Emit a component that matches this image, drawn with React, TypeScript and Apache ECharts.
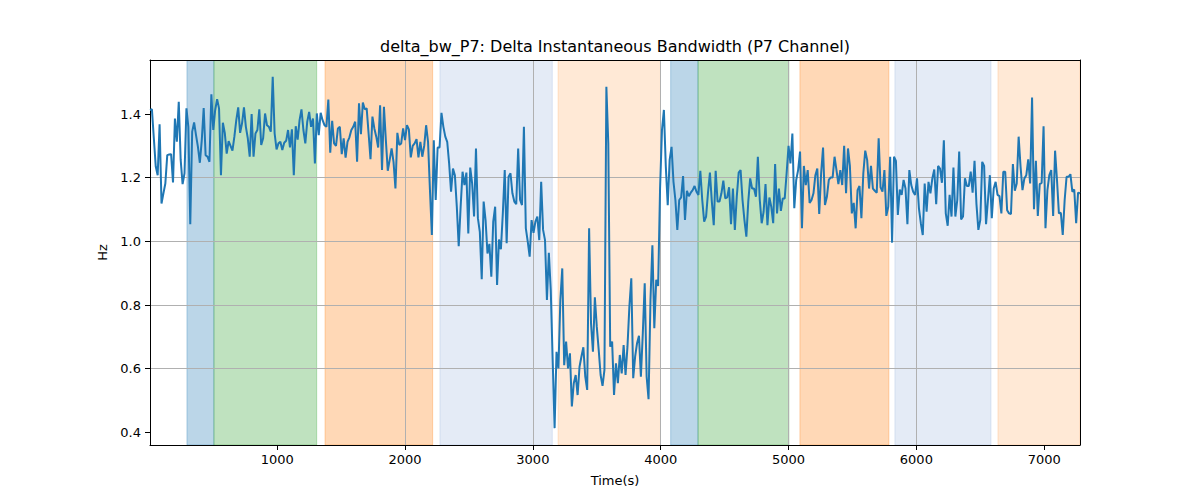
import React, { useEffect, useRef } from "react";
import * as echarts from "echarts";

const TITLE = "delta_bw_P7: Delta Instantaneous Bandwidth (P7 Channel)";

// samples every 15 s
const TIME_START = 5;
const TIME_STEP = 15;

const BW_DELTA = [
  1.413, 1.415, 1.324, 1.235, 1.208, 1.368, 1.119, 1.151, 1.182, 1.271,
  1.273, 1.274, 1.185, 1.386, 1.313, 1.439, 1.256, 1.18, 1.214, 1.418,
  1.36, 1.054, 1.345, 1.374, 1.334, 1.297, 1.247, 1.318, 1.419, 1.271,
  1.266, 1.25, 1.462, 1.35, 1.413, 1.447, 1.418, 1.208, 1.373, 1.341,
  1.276, 1.315, 1.3, 1.285, 1.329, 1.381, 1.421, 1.341, 1.371, 1.421,
  1.36, 1.324, 1.266, 1.4, 1.266, 1.339, 1.35, 1.415, 1.303, 1.324,
  1.402, 1.365, 1.36, 1.345, 1.517, 1.339, 1.289, 1.308, 1.313, 1.287,
  1.31, 1.316, 1.35, 1.295, 1.352, 1.208, 1.362, 1.32,
  1.381, 1.415, 1.35, 1.308, 1.376, 1.407, 1.36, 1.386, 1.245, 1.402,
  1.334, 1.404, 1.381, 1.365, 1.36, 1.446, 1.279, 1.379, 1.308, 1.3,
  1.355, 1.36, 1.274, 1.324, 1.263, 1.313, 1.327, 1.35, 1.36, 1.376,
  1.25, 1.434, 1.337, 1.436, 1.415, 1.418, 1.339, 1.258, 1.392, 1.355,
  1.329, 1.295, 1.428, 1.224, 1.423, 1.318, 1.222, 1.256, 1.292, 1.25,
  1.166, 1.341, 1.303, 1.308, 1.355, 1.318, 1.365, 1.352, 1.264, 1.3,
  1.308, 1.321, 1.264, 1.313, 1.266, 1.3, 1.365, 1.313, 1.161, 1.02,
  1.318, 1.13, 1.295, 1.295, 1.404, 1.36, 1.329, 1.313, 1.245,
  1.156, 1.229, 1.208, 1.109, 0.985, 1.109, 1.219, 1.177, 1.216, 1.025,
  1.232, 1.182, 1.078, 1.292, 1.073, 1.03, 0.881, 1.125, 1.067, 0.962,
  0.992, 0.889, 1.062, 1.109, 0.863, 1.006, 0.975, 1.088, 1.224, 0.994,
  1.203, 1.214, 1.151, 1.125, 1.117, 1.292, 1.13, 1.114, 1.36, 1.041,
  0.999, 0.952, 1.067, 1.027, 1.062, 1.078, 1.004, 1.187, 1.036, 1.004,
  0.816, 0.964, 0.847, 0.627, 0.413, 0.653, 0.601, 0.816, 0.915, 0.611,
  0.685, 0.601,
  0.648, 0.481, 0.554, 0.58, 0.517, 0.606, 0.638, 0.667, 0.575, 0.533,
  1.041, 0.742, 0.653, 0.824, 0.732, 0.659, 0.58, 0.546, 0.596, 1.486,
  1.308, 0.669, 0.685, 0.517, 0.617, 0.554, 0.643, 0.585, 0.674, 0.58,
  0.669, 0.795, 0.884, 0.57, 0.638, 0.68, 0.703, 0.575, 0.711, 0.868,
  0.575, 0.504, 0.816, 0.988, 0.727, 0.879, 0.86, 1.166, 1.35, 1.413,
  1.235, 1.114, 1.256, 1.297, 1.187, 1.13, 1.036, 1.13,
  1.138, 1.205, 1.067, 1.159, 1.142, 1.153, 1.161, 1.174, 1.156, 1.146,
  1.222, 1.13, 1.062, 1.078, 1.153, 1.216, 1.125, 1.051, 1.222, 1.125,
  1.125, 1.151, 1.191, 1.135, 1.138, 1.17, 1.054, 1.166, 1.036, 1.14,
  1.216, 1.224, 1.13, 1.067, 1.015, 1.125, 1.198, 1.166, 1.166, 1.14,
  1.266, 1.13, 1.057, 1.093, 1.18, 1.051, 1.138, 1.109, 1.057, 1.243,
  1.088, 1.166, 1.096, 1.135, 1.135, 1.214, 1.3, 1.245, 1.339, 1.104,
  1.193, 1.224, 1.282, 1.041, 1.237, 1.177, 1.224,
  1.121, 1.13, 1.151, 1.208, 1.229, 1.086, 1.214, 1.295, 1.114, 1.14,
  1.193, 1.201, 1.201, 1.266, 1.224, 1.18, 1.224, 1.177, 1.3, 1.151,
  1.292, 1.237, 1.088, 1.121, 1.041, 1.161, 1.174, 1.073, 1.214, 1.285,
  1.256, 1.166, 1.237, 1.166, 1.159, 1.153, 1.324, 1.17, 1.156, 1.224,
  1.08, 1.109, 1.266, 0.996, 1.266, 1.253, 1.083, 1.163, 1.146, 1.193,
  1.166, 1.054, 1.224, 1.177, 1.156, 1.146, 1.198, 1.104, 1.057, 1.02,
  1.182, 1.093, 1.187, 1.151, 1.198, 1.226, 1.117, 1.237, 1.229, 1.184,
  1.318, 1.088, 1.049, 1.146,
  1.078, 1.232, 1.078, 1.13, 1.282, 1.069, 1.078, 1.198, 1.174, 1.174,
  1.219, 1.153, 1.253, 1.117, 1.036, 1.067, 1.25, 1.237, 1.054, 1.13,
  1.208, 1.073, 1.166, 1.187, 1.146, 1.142, 1.088, 1.219, 1.219, 1.098,
  1.088, 1.086, 1.243, 1.159, 1.182, 1.329, 1.235, 1.161, 1.198, 1.208,
  1.258, 1.182, 1.452, 1.101, 1.253, 1.08, 1.18, 1.184, 1.362, 1.041,
  1.161, 1.208, 1.224, 1.08, 1.285, 1.193, 1.088, 1.09, 1.02, 1.13,
  1.203, 1.203, 1.211, 1.156, 1.163, 1.057, 1.153, 1.151,
];

// shaded phases (axvspan)
const BAND_START = [294, 505, 1374, 2273, 3197, 4078, 4292, 5089, 5832, 6638];
const BAND_END = [505, 1309, 2216, 3152, 3998, 4292, 5003, 5785, 6584, 7280];
const BAND_KIND = [0, 1, 2, 3, 4, 0, 1, 2, 3, 4];
const BAND_COLORS = [
  "rgba(31,119,180,0.3)",
  "rgba(44,160,44,0.3)",
  "rgba(255,127,14,0.3)",
  "rgba(50,100,185,0.13)",
  "rgba(255,127,14,0.17)",
];

const Y_MIN = 0.36;
const Y_MAX = 1.57;
const Y_TICKS = [0.4, 0.6, 0.8, 1.0, 1.2, 1.4];
const X_TICKS = [1000, 2000, 3000, 4000, 5000, 6000, 7000];

const FONT = "DejaVu Sans";

const App: React.FC = () => {
  const chartRef = useRef<HTMLDivElement>(null);

  useEffect(() => {
    const chart = echarts.init(chartRef.current!, null, { renderer: "svg" });
    const times = BW_DELTA.map((_, i) => TIME_START + i * TIME_STEP);
    const lineData = BW_DELTA.map((v, i) => [times[i], v]);
    const xMin = times[0];
    const xMax = times[times.length - 1];
    const bandData = BAND_START.map((s, i) => [s, BAND_END[i], BAND_KIND[i]]);

    const frameAxis = {
      show: true,
      axisLine: { show: true, onZero: false, lineStyle: { color: "#000", width: 1 } },
      axisTick: { show: false },
      axisLabel: { show: false },
      splitLine: { show: false },
      z: 3,
    };

    const options = {
      animation: false,
      backgroundColor: "#fff",
      textStyle: { fontFamily: FONT },
      grid: { left: 150, right: 120, top: 60, bottom: 55 },
      graphic: [
        {
          type: "text",
          x: 615,
          y: 46,
          style: {
            text: TITLE,
            fill: "#000",
            font: `16px "${FONT}"`,
            align: "center",
            verticalAlign: "middle",
            textAlign: "center",
            textVerticalAlign: "middle",
          },
        },
      ],
      xAxis: [
        {
          type: "value",
          min: xMin,
          max: xMax,
          minInterval: 1000,
          maxInterval: 1000,
          z: 3,
          name: "Time(s)",
          nameLocation: "middle",
          nameGap: 29,
          nameTextStyle: { color: "#000", fontFamily: FONT, fontSize: 13 },
          axisLine: { show: true, onZero: false, lineStyle: { color: "#000", width: 1 } },
          axisTick: {
            show: true,
            length: 5,
            customValues: X_TICKS,
            lineStyle: { color: "#000" },
          },
          axisLabel: {
            color: "#000",
            fontFamily: FONT,
            fontSize: 13,
            margin: 8,
            showMinLabel: false,
            showMaxLabel: false,
            formatter: (v: number) => String(Math.round(v)),
          },
          splitLine: {
            show: true,
            showMinLine: false,
            showMaxLine: false,
            lineStyle: { color: "#b0b0b0", width: 1 },
          },
        },
        { type: "value", position: "top", min: xMin, max: xMax, ...frameAxis },
      ],
      yAxis: [
        {
          type: "value",
          min: Y_MIN,
          max: Y_MAX,
          minInterval: 0.2,
          maxInterval: 0.2,
          z: 3,
          name: "Hz",
          nameLocation: "middle",
          nameGap: 40,
          nameRotate: 90,
          nameTextStyle: { color: "#000", fontFamily: FONT, fontSize: 13 },
          axisLine: { show: true, onZero: false, lineStyle: { color: "#000", width: 1 } },
          axisTick: {
            show: true,
            length: 5,
            customValues: Y_TICKS,
            lineStyle: { color: "#000" },
          },
          axisLabel: {
            color: "#000",
            fontFamily: FONT,
            fontSize: 13,
            margin: 9,
            showMinLabel: false,
            showMaxLabel: false,
            formatter: (v: number) => v.toFixed(1),
          },
          splitLine: {
            show: true,
            showMinLine: false,
            showMaxLine: false,
            lineStyle: { color: "#b0b0b0", width: 1 },
          },
        },
        { type: "value", position: "right", min: Y_MIN, max: Y_MAX, ...frameAxis },
      ],
      series: [
        {
          type: "custom",
          z: 1,
          silent: true,
          clip: true,
          xAxisIndex: 0,
          yAxisIndex: 0,
          encode: { x: [0, 1] },
          data: bandData,
          renderItem: (_params: any, api: any) => {
            const p0 = api.coord([api.value(0), Y_MAX]);
            const p1 = api.coord([api.value(1), Y_MIN]);
            const color = BAND_COLORS[api.value(2)];
            return {
              type: "rect",
              shape: { x: p0[0], y: p0[1], width: p1[0] - p0[0], height: p1[1] - p0[1] },
              style: { fill: color, stroke: color, lineWidth: 1 },
            };
          },
        },
        {
          name: "delta_bw_P7",
          type: "line",
          data: lineData,
          showSymbol: false,
          symbol: "none",
          z: 5,
          clip: true,
          lineStyle: { color: "#1f77b4", width: 2 },
        },
      ],
    };
    chart.setOption(options);

    return () => {
      chart.dispose();
    };
  }, []);

  return (
    <div
      ref={chartRef}
      style={{ position: "fixed", left: 0, top: 0, width: 1200, height: 500 }}
    ></div>
  );
};

export default App;
